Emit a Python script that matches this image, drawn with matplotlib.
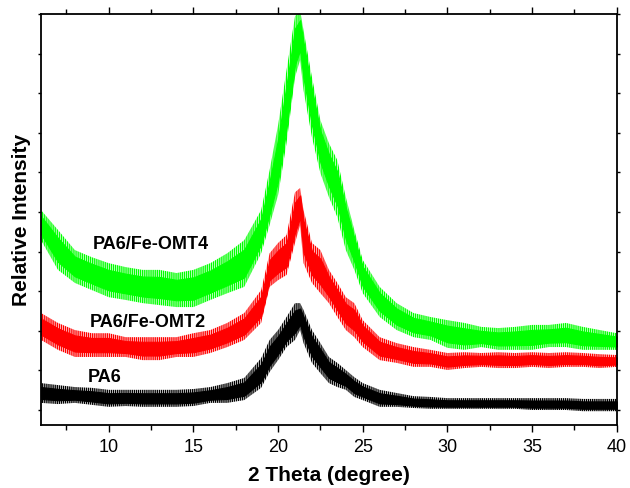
#coding: utf-8
import matplotlib
matplotlib.use('Agg')
import matplotlib.pyplot as plt
from matplotlib.ticker import MultipleLocator

# 2 theta (degree)
two_theta = [6, 7, 8, 9, 10, 11, 12, 13, 14, 15, 16, 17, 18, 19, 19.5, 20, 20.5,
             21, 21.3, 21.5, 22, 22.5, 23, 23.5, 24, 24.5, 25, 26, 27, 28, 29,
             30, 31, 32, 33, 34, 35, 36, 37, 38, 39, 40]

# upper / lower edge of the noisy signal, arbitrary counts
omt4_high = [505, 455, 404, 386, 371, 361, 354, 354, 346, 354, 371, 396, 429, 505, 606, 720, 859,
             995, 1010, 960, 841, 732, 674, 631, 538, 455, 379, 311, 270, 245, 235,
             227, 220, 210, 207, 210, 215, 215, 220, 210, 202, 194]
omt4_low = [429, 354, 321, 303, 285, 278, 270, 265, 260, 260, 278, 295, 311, 396, 467, 543, 674,
            841, 884, 808, 689, 598, 538, 487, 404, 354, 295, 235, 202, 184, 177,
            157, 152, 159, 152, 152, 152, 159, 159, 152, 152, 152]

omt2_high = [245, 220, 202, 194, 194, 184, 184, 184, 184, 194, 202, 220, 245, 303, 396, 422, 442,
             550, 561, 505, 422, 404, 354, 321, 285, 270, 227, 184, 169, 159, 152,
             144, 146, 144, 146, 144, 146, 144, 146, 144, 141, 139]
omt2_low = [177, 152, 134, 134, 134, 134, 126, 126, 134, 134, 144, 159, 177, 220, 311, 328, 341,
            422, 467, 371, 321, 295, 270, 235, 202, 184, 159, 126, 119, 109, 109,
            101, 106, 109, 106, 106, 109, 106, 109, 109, 106, 109]

pa6_high = [68, 63, 58, 56, 51, 51, 51, 51, 51, 53, 58, 68, 81, 131, 177, 202, 235,
            270, 270, 253, 202, 169, 134, 119, 101, 83, 68, 51, 43, 35, 33,
            30, 30, 30, 30, 30, 30, 30, 30, 28, 28, 28]
pa6_low = [18, 15, 18, 13, 8, 10, 8, 8, 8, 10, 18, 18, 25, 56, 96, 126, 159,
           177, 202, 169, 119, 93, 68, 58, 51, 33, 25, 8, 8, 5, 3,
           3, 3, 3, 3, 3, 0, 0, 0, -3, -3, -3]

plt.rcParams['font.family'] = ['Liberation Sans', 'DejaVu Sans']
plt.rcParams['hatch.linewidth'] = 1.0

fig = plt.figure(figsize=(6.3, 4.88), dpi=100)
ax = fig.add_axes([0.0651, 0.129, 0.9139, 0.842])

curves = [(pa6_low, pa6_high, '#000000'),
          (omt2_low, omt2_high, '#ff0000'),
          (omt4_low, omt4_high, '#00ff00')]
for low, high, c in curves:
  # 噪声外沿：竖线纹理
  ax.fill_between(two_theta, low, high, facecolor='none', edgecolor=c,
                  hatch='||||||||', linewidth=0)
  # 噪声中心的密集部分
  mid = [(a + b) / 2.0 for a, b in zip(low, high)]
  half = [(b - a) * 0.3 for a, b in zip(low, high)]
  ax.fill_between(two_theta, [m - h for m, h in zip(mid, half)],
                  [m + h for m, h in zip(mid, half)], color=c, linewidth=0.8)

ax.text(9.07, 417, 'PA6/Fe-OMT4', fontsize=13, fontweight='bold', va='center', zorder=5)
ax.text(8.9, 220, 'PA6/Fe-OMT2', fontsize=13, fontweight='bold', va='center', zorder=5)
ax.text(8.78, 83, 'PA6', fontsize=13, fontweight='bold', va='center', zorder=5)

ax.set_xlim(6, 40)
ax.set_ylim(-38, 1000)
ax.xaxis.set_major_locator(MultipleLocator(5))
ax.xaxis.set_minor_locator(MultipleLocator(2.5))
ax.yaxis.set_major_locator(MultipleLocator(100))
ax.set_yticklabels([])

ax.tick_params(axis='x', which='major', direction='out', length=5, width=1, labelsize=13, pad=5)
ax.tick_params(axis='x', which='minor', direction='out', length=3.5, width=1)
ax.tick_params(axis='y', which='major', direction='out', length=2, width=1, right=True)
ax.tick_params(axis='x', which='both', top=True, labeltop=False)
for s in ax.spines.values():
  s.set_linewidth(1.3)

ax.set_xlabel('2 Theta (degree)', fontsize=15, fontweight='bold', labelpad=7)
ax.set_ylabel('Relative Intensity', fontsize=15, fontweight='bold', labelpad=1.5)

fig.savefig('out.png', dpi=100)
